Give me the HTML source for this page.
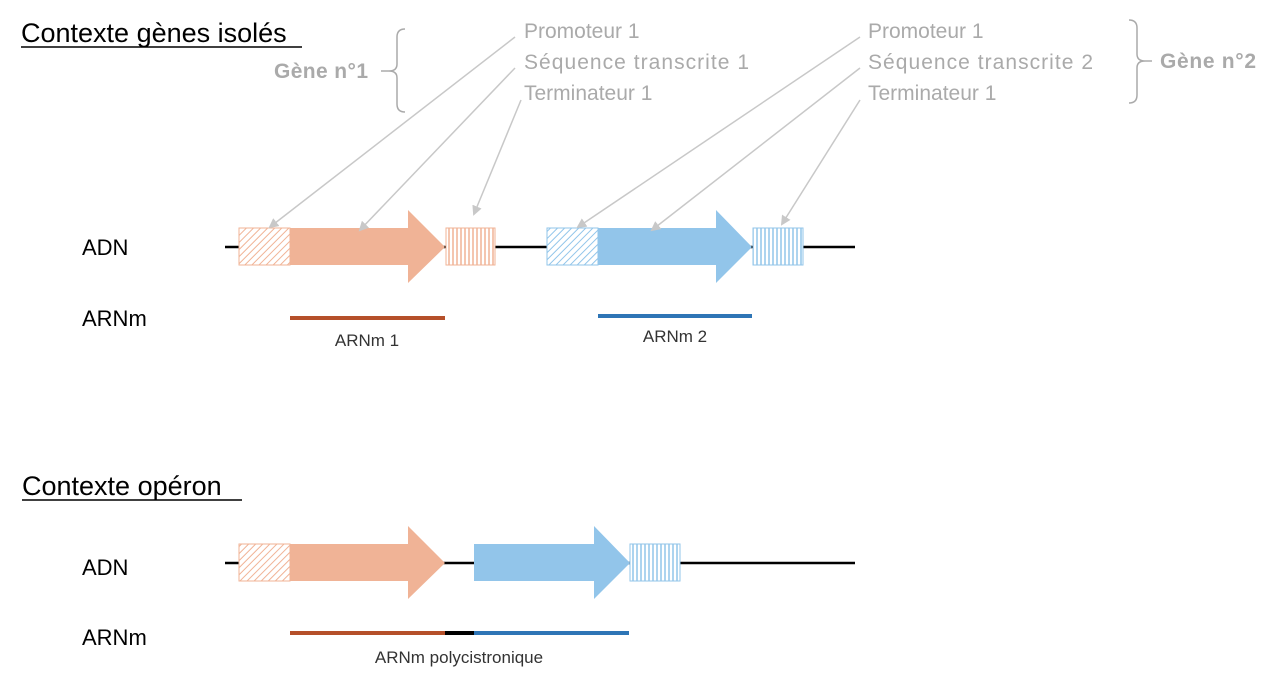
<!DOCTYPE html>
<html><head><meta charset="utf-8"><style>
html,body{margin:0;padding:0;background:#fff;}
svg{display:block;font-family:"Liberation Sans",sans-serif;}
</style></head><body>
<svg width="1280" height="683" viewBox="0 0 1280 683" xmlns="http://www.w3.org/2000/svg">
<defs>
<pattern id="dO" width="5" height="5" patternUnits="userSpaceOnUse" patternTransform="rotate(45)"><rect width="5" height="5" fill="#fff"/><line x1="0" y1="0" x2="0" y2="5" stroke="#f0b396" stroke-width="2"/></pattern>
<pattern id="vO" width="4" height="10" patternUnits="userSpaceOnUse"><rect width="4" height="10" fill="#fff"/><line x1="1" y1="0" x2="1" y2="10" stroke="#f0b396" stroke-width="1.5"/></pattern>
<pattern id="dB" width="5" height="5" patternUnits="userSpaceOnUse" patternTransform="rotate(45)"><rect width="5" height="5" fill="#fff"/><line x1="0" y1="0" x2="0" y2="5" stroke="#92c5ea" stroke-width="2"/></pattern>
<pattern id="vB" width="4" height="10" patternUnits="userSpaceOnUse"><rect width="4" height="10" fill="#fff"/><line x1="1" y1="0" x2="1" y2="10" stroke="#92c5ea" stroke-width="1.5"/></pattern>
<marker id="ah" markerWidth="10" markerHeight="10" refX="8" refY="5" orient="auto" markerUnits="userSpaceOnUse"><path d="M0,0 L10,5 L0,10 z" fill="#c8c8c8"/></marker>
</defs>

<!-- titles -->
<text x="21" y="42" font-size="27" fill="#000">Contexte gènes isolés</text>
<line x1="21" y1="47" x2="302" y2="47" stroke="#000" stroke-width="1.5"/>
<text x="22" y="495" font-size="27" fill="#000">Contexte opéron</text>
<line x1="22" y1="500" x2="242" y2="500" stroke="#000" stroke-width="1.5"/>

<!-- gray labels -->
<g font-size="21" fill="#aaa">
<text x="524" y="38">Promoteur 1</text>
<text x="524" y="69" textLength="225">Séquence transcrite 1</text>
<text x="524" y="100">Terminateur 1</text>
<text x="868" y="38">Promoteur 1</text>
<text x="868" y="69" textLength="225">Séquence transcrite 2</text>
<text x="868" y="100">Terminateur 1</text>
<text x="274" y="78" font-weight="bold" textLength="94">Gène n°1</text>
<text x="1160" y="68" font-weight="bold" textLength="96">Gène n°2</text>
</g>
<!-- brackets -->
<path d="M405,29 Q397,29 397,37 L397,64 Q397,71 389,71 Q397,71 397,78 L397,104 Q397,112 405,112" fill="none" stroke="#aaa" stroke-width="1.5"/>
<path d="M1129,20 Q1137,20 1137,28 L1137,54 Q1137,61 1145,61 Q1137,61 1137,68 L1137,95 Q1137,103 1129,103" fill="none" stroke="#aaa" stroke-width="1.5"/>
<line x1="1145" y1="61" x2="1152" y2="61" stroke="#aaa" stroke-width="1.5"/>
<line x1="381" y1="71" x2="389" y2="71" stroke="#aaa" stroke-width="1.5"/>

<!-- DNA top -->
<line x1="225" y1="247" x2="855" y2="247" stroke="#000" stroke-width="2.5"/>
<rect x="239" y="228" width="51" height="37" fill="url(#dO)" stroke="#f0b396"/>
<path d="M290,228 L408,228 L408,210 L445,247 L408,283 L408,265 L290,265 z" fill="#f0b396"/>
<rect x="446" y="228" width="49" height="37" fill="url(#vO)" stroke="#f0b396"/>
<rect x="547" y="228" width="51" height="37" fill="url(#dB)" stroke="#92c5ea"/>
<path d="M598,228 L716,228 L716,210 L752,247 L716,283 L716,265 L598,265 z" fill="#92c5ea"/>
<rect x="753" y="228" width="50" height="37" fill="url(#vB)" stroke="#92c5ea"/>

<!-- gray arrows -->
<g stroke="#c8c8c8" stroke-width="1.5" marker-end="url(#ah)">
<line x1="515" y1="37" x2="270" y2="227"/>
<line x1="515" y1="68" x2="360" y2="230"/>
<line x1="521" y1="100" x2="474" y2="214"/>
<line x1="860" y1="37" x2="578" y2="227"/>
<line x1="860" y1="68" x2="652" y2="230"/>
<line x1="860" y1="100" x2="782" y2="224"/>
</g>

<!-- labels left -->
<text x="82" y="255" font-size="22" fill="#000">ADN</text>
<text x="82" y="326" font-size="22" fill="#000">ARNm</text>
<text x="82" y="575" font-size="22" fill="#000">ADN</text>
<text x="82" y="645" font-size="22" fill="#000">ARNm</text>

<!-- mRNA top -->
<line x1="290" y1="318" x2="445" y2="318" stroke="#b5502a" stroke-width="4"/>
<text x="367" y="346" font-size="17" fill="#333" text-anchor="middle">ARNm 1</text>
<line x1="598" y1="316" x2="752" y2="316" stroke="#2e75b6" stroke-width="4"/>
<text x="675" y="342" font-size="17" fill="#333" text-anchor="middle">ARNm 2</text>

<!-- operon -->
<line x1="225" y1="563" x2="855" y2="563" stroke="#000" stroke-width="2.5"/>
<rect x="239" y="544" width="51" height="37" fill="url(#dO)" stroke="#f0b396"/>
<path d="M290,544 L408,544 L408,526 L445,563 L408,599 L408,581 L290,581 z" fill="#f0b396"/>
<path d="M474,544 L594,544 L594,526 L630,563 L594,599 L594,581 L474,581 z" fill="#92c5ea"/>
<rect x="630" y="544" width="50" height="37" fill="url(#vB)" stroke="#92c5ea"/>

<line x1="290" y1="633" x2="445" y2="633" stroke="#b5502a" stroke-width="4"/>
<line x1="445" y1="633" x2="474" y2="633" stroke="#000" stroke-width="4"/>
<line x1="474" y1="633" x2="629" y2="633" stroke="#2e75b6" stroke-width="4"/>
<text x="459" y="663" font-size="17" fill="#333" text-anchor="middle">ARNm polycistronique</text>
</svg>
</body></html>
